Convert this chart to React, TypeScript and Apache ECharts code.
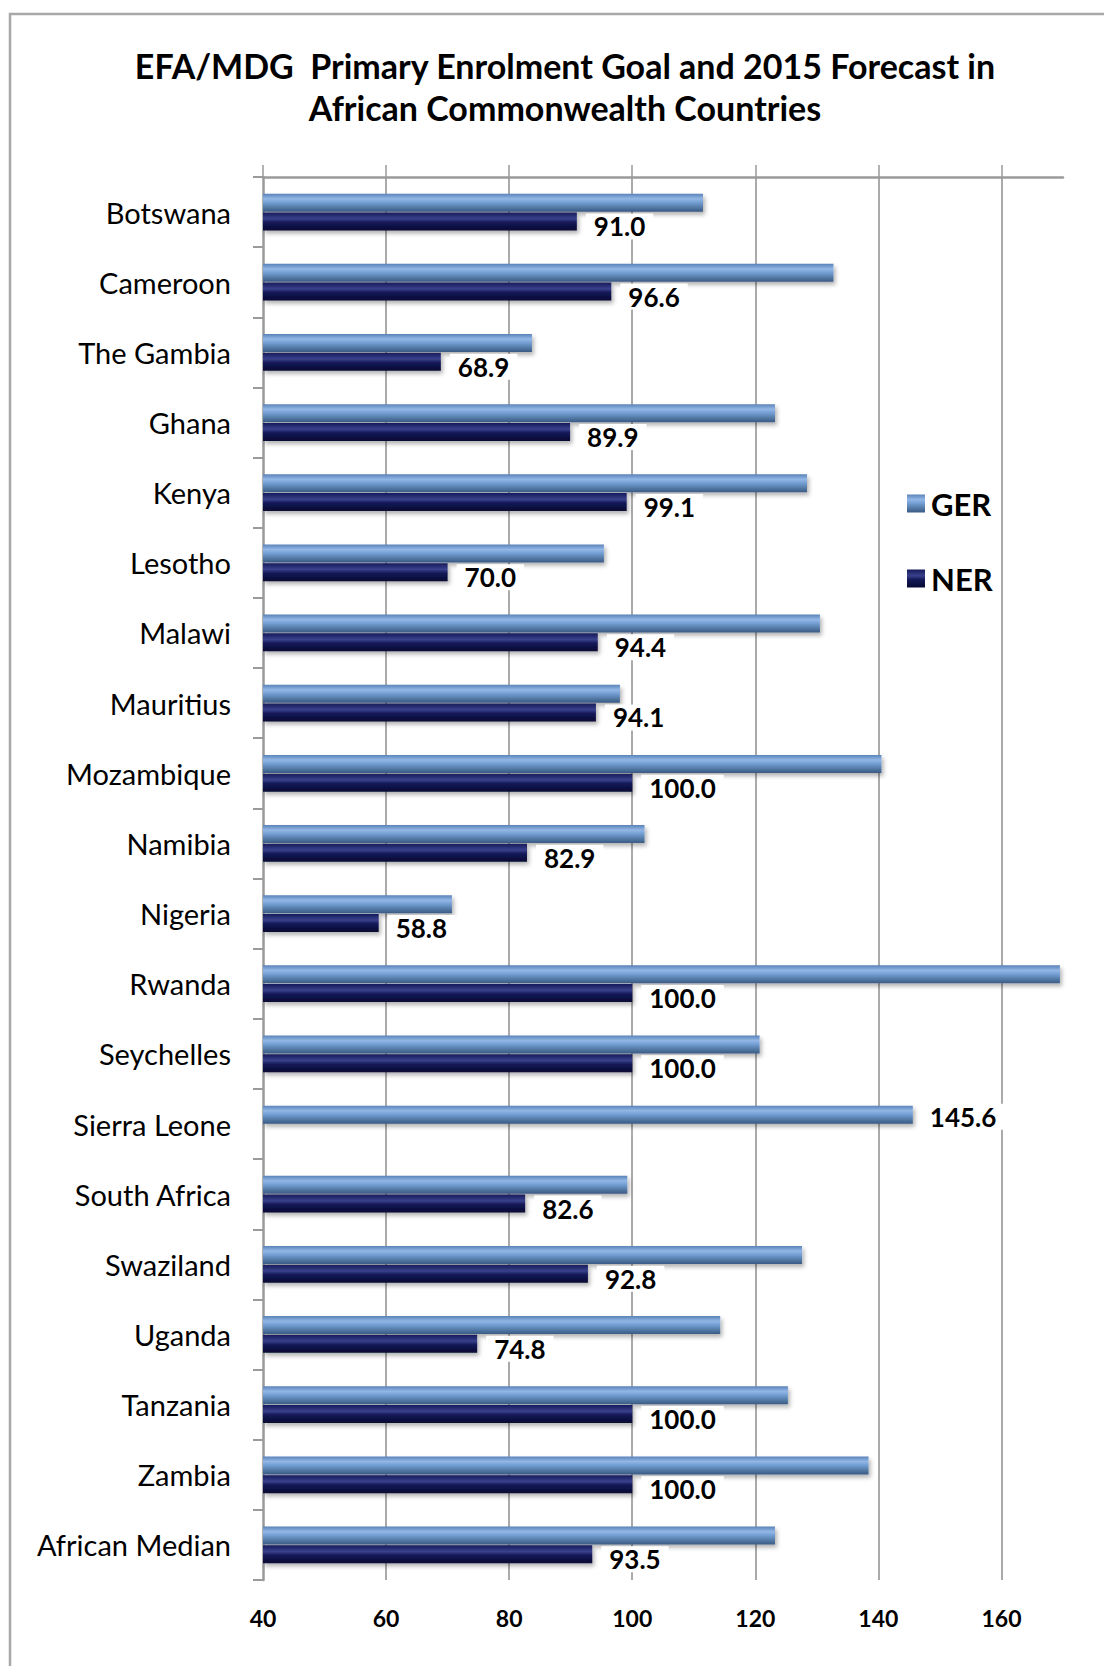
import React, { useEffect, useRef } from "react";
import * as echarts from "echarts";

const categories = [
  "Botswana", "Cameroon", "The Gambia", "Ghana", "Kenya", "Lesotho", "Malawi",
  "Mauritius", "Mozambique", "Namibia", "Nigeria", "Rwanda", "Seychelles",
  "Sierra Leone", "South Africa", "Swaziland", "Uganda", "Tanzania", "Zambia",
  "African Median",
];
const gerValues = [
  111.5, 132.7, 83.7, 123.2, 128.4, 95.4, 130.5, 98.0, 140.5, 102.0, 70.7,
  169.5, 120.7, 145.6, 99.2, 127.6, 114.3, 125.3, 138.4, 123.2,
];
const nerValues: (number | null)[] = [
  91.0, 96.6, 68.9, 89.9, 99.1, 70.0, 94.4, 94.1, 100.0, 82.9, 58.8,
  100.0, 100.0, null, 82.6, 92.8, 74.8, 100.0, 100.0, 93.5,
];
const tickValues = [40, 60, 80, 100, 120, 140, 160];
const axisMin = 40;
const axisMax = 170;
const titleText = "EFA/MDG  Primary Enrolment Goal and 2015 Forecast in\nAfrican Commonwealth Countries";

const FONT = "Lato, 'Open Sans', sans-serif";

export default function App() {
  const ref = useRef<HTMLDivElement>(null);
  useEffect(() => {
    if (!ref.current) return;
    const chart = echarts.init(ref.current, null, { renderer: "svg" });

    const gerColor = new echarts.graphic.LinearGradient(0, 0, 0, 1, [
      { offset: 0, color: "#5a83b8" },
      { offset: 0.28, color: "#92b7e6" },
      { offset: 0.5, color: "#729dd2" },
      { offset: 0.8, color: "#4f759f" },
      { offset: 1, color: "#3a5a85" },
    ]);
    const nerColor = new echarts.graphic.LinearGradient(0, 0, 0, 1, [
      { offset: 0, color: "#161b5a" },
      { offset: 0.35, color: "#3a418c" },
      { offset: 0.55, color: "#141958" },
      { offset: 1, color: "#060932" },
    ]);

    const labelStyle = {
      show: true,
      position: "right" as const,
      distance: 9,
      offset: [0, 5],
      color: "#000",
      fontFamily: FONT,
      fontWeight: "bold" as const,
      fontSize: 26,
      lineHeight: 26,
      backgroundColor: "#fff",
      padding: [0, 8, 0, 8],
      formatter: (p: any) => (p.value == null ? "" : Number(p.value).toFixed(1)),
    };

    const gerData = gerValues.map((v, i) =>
      nerValues[i] == null ? { value: v, label: { ...labelStyle, offset: [0, 2] } } : { value: v }
    );

    chart.setOption({
      animation: false,
      backgroundColor: "#fff",
      graphic: [
        {
          type: "rect",
          shape: { x: 10, y: 14, width: 1300, height: 1800 },
          style: { fill: "none", stroke: "#a8a8a8", lineWidth: 2.5 },
          silent: true,
        },
      ],
      title: {
        text: titleText,
        left: 560,
        top: 39,
        textAlign: "center",
        textStyle: {
          fontFamily: FONT,
          fontWeight: "bold",
          fontSize: 34,
          lineHeight: 42,
          color: "#000",
        },
      },
      legend: {
        orient: "vertical",
        left: 902,
        top: 483,
        itemWidth: 18,
        itemHeight: 18,
        itemGap: 44,
        icon: "rect",
        textStyle: {
          fontFamily: FONT,
          fontWeight: "bold",
          fontSize: 31,
          color: "#000",
          padding: [0, 0, 0, 1],
        },
        data: ["GER", "NER"],
      },
      grid: { left: 263, top: 177, right: 41, bottom: 86, containLabel: false },
      xAxis: [
        {
          type: "value",
          position: "top",
          min: axisMin,
          max: axisMax,
          interval: 20,
          axisLine: { show: true, lineStyle: { color: "#9a9a9a", width: 2.5 } },
          axisTick: {
            show: true,
            inside: false,
            length: 12,
            customValues: tickValues,
            lineStyle: { color: "#9a9a9a", width: 1.5 },
          },
          axisLabel: { show: false },
          splitLine: {
            show: true,
            showMinLine: false,
            showMaxLine: true,
            lineStyle: { color: "#8e8e8e", width: 1.5 },
          },
        },
        {
          type: "value",
          position: "bottom",
          min: axisMin,
          max: axisMax,
          interval: 20,
          axisLine: { show: false },
          axisTick: { show: false },
          splitLine: { show: false },
          axisLabel: {
            show: true,
            customValues: tickValues,
            margin: 26,
            fontFamily: FONT,
            fontWeight: "bold",
            fontSize: 23,
            color: "#000",
          },
        },
      ],
      yAxis: {
        type: "category",
        inverse: true,
        data: categories,
        axisLine: { show: true, lineStyle: { color: "#9a9a9a", width: 2.5 } },
        axisTick: { show: true, length: 10, lineStyle: { color: "#9a9a9a", width: 2 } },
        axisLabel: {
          margin: 32,
          fontFamily: FONT,
          fontSize: 29,
          color: "#000",
        },
      },
      series: [
        {
          name: "GER",
          type: "bar",
          xAxisIndex: 0,
          data: gerData,
          barWidth: 18,
          barGap: "4%",
          itemStyle: {
            color: gerColor,
            shadowColor: "rgba(0,0,0,0.3)",
            shadowBlur: 4,
            shadowOffsetX: 2,
            shadowOffsetY: 3,
          },
          label: { show: false },
        },
        {
          name: "NER",
          type: "bar",
          xAxisIndex: 0,
          data: nerValues,
          barWidth: 18,
          itemStyle: {
            color: nerColor,
            shadowColor: "rgba(0,0,0,0.3)",
            shadowBlur: 4,
            shadowOffsetX: 2,
            shadowOffsetY: 3,
          },
          label: labelStyle,
        },
      ],
    });
    return () => chart.dispose();
  }, []);
  return (
    <div
      ref={ref}
      style={{ position: "absolute", left: 0, top: 0, width: 1104, height: 1666 }}
    />
  );
}
